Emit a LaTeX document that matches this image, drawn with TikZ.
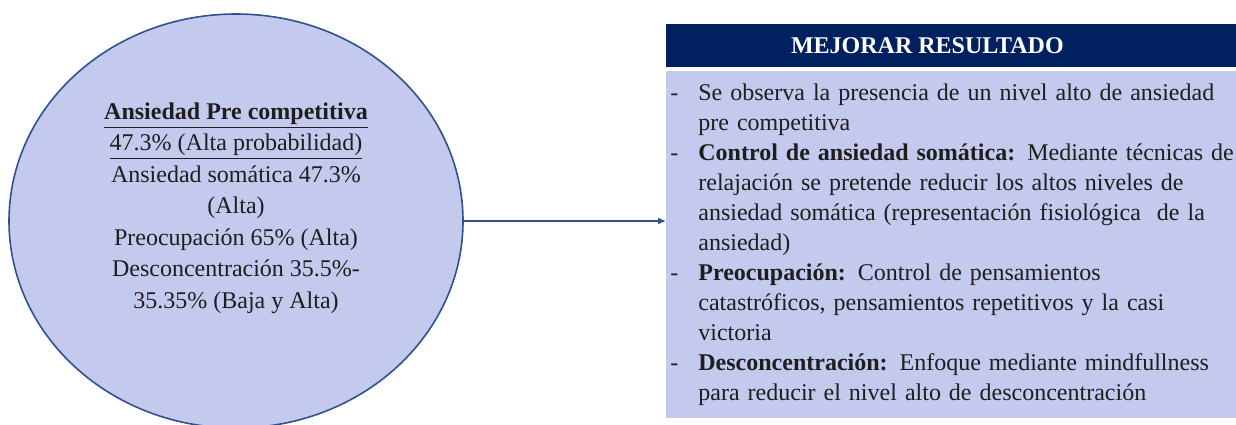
\documentclass[tikz,border=0pt]{standalone}
\usepackage{fontspec}
\setmainfont{Liberation Serif}
\usepackage{xcolor}
\usepackage{tikz}
\usetikzlibrary{shapes.geometric, arrows.meta, positioning, calc}

\definecolor{relleno}{HTML}{C3CAEE}
\definecolor{borde}{HTML}{2F528F}
\definecolor{marino}{HTML}{002060}
\definecolor{tinta}{HTML}{1E1E1E}

\tikzset{
	circulo/.style={ellipse, draw=borde, line width=0.8pt, fill=relleno, minimum width=227pt, minimum height=207pt, inner sep=0pt},
	cabecera/.style={rectangle, fill=marino, minimum width=292pt, minimum height=21.5pt, inner sep=0pt, anchor=north west},
	cuerpo/.style={rectangle, fill=relleno, text width=288pt, inner xsep=2pt, inner ysep=0pt, minimum height=173.5pt, align=left, anchor=north west, text=tinta, font=\fontsize{12}{15}\selectfont},
	flecha/.style={-{Latex[length=4pt,width=3.5pt]}, draw=borde, line width=0.6pt}
}
\newcommand{\guion}{\makebox[14pt][l]{-}}
\newcommand{\sangria}{\hspace*{14pt}}

\begin{document}
\begin{tikzpicture}[x=0.5pt, y=0.5pt]
	
	%//marco de la figura
	\clip (0,0) rectangle (1236,424);
	
	%//circulo de la izquierda
	\node [circulo] (ansiedad) at (236,203) {};
	\node [align=center, text=tinta, font=\fontsize{12}{15.75}\selectfont] (ansiedadtxt) at (236,216) {\textbf{\underline{Ansiedad Pre competitiva}}\\
		\underline{47.3\% (Alta probabilidad)}\\
		Ansiedad somática 47.3\%\\
		(Alta)\\
		Preocupación 65\% (Alta)\\
		Desconcentración 35.5\%-\\
		35.35\% (Baja y Alta)};
	
	%//cuadro de la derecha
	\node [cabecera, label={[text=white, font=\fontsize{12}{14}\selectfont\bfseries, xshift=-15.5pt]center:MEJORAR RESULTADO}] (titulo) at (666,400) {};
	\node [cuerpo] (mejora) at (666,353) {\guion Se observa la presencia de un nivel alto de ansiedad\\
		\sangria pre competitiva\\
		\guion\textbf{Control de ansiedad somática:} Mediante técnicas de\\
		\sangria relajación se pretende reducir los altos niveles de\\
		\sangria ansiedad somática (representación fisiológica \ de la\\
		\sangria ansiedad)\\
		\guion\textbf{Preocupación:} Control de pensamientos\\
		\sangria catastróficos, pensamientos repetitivos y la casi\\
		\sangria victoria\\
		\guion\textbf{Desconcentración:} Enfoque mediante mindfullness\\
		\sangria para reducir el nivel alto de desconcentración};
	
	\draw [flecha] (ansiedad.east) -- (ansiedad.east -| mejora.west);
	
\end{tikzpicture}
\end{document}
